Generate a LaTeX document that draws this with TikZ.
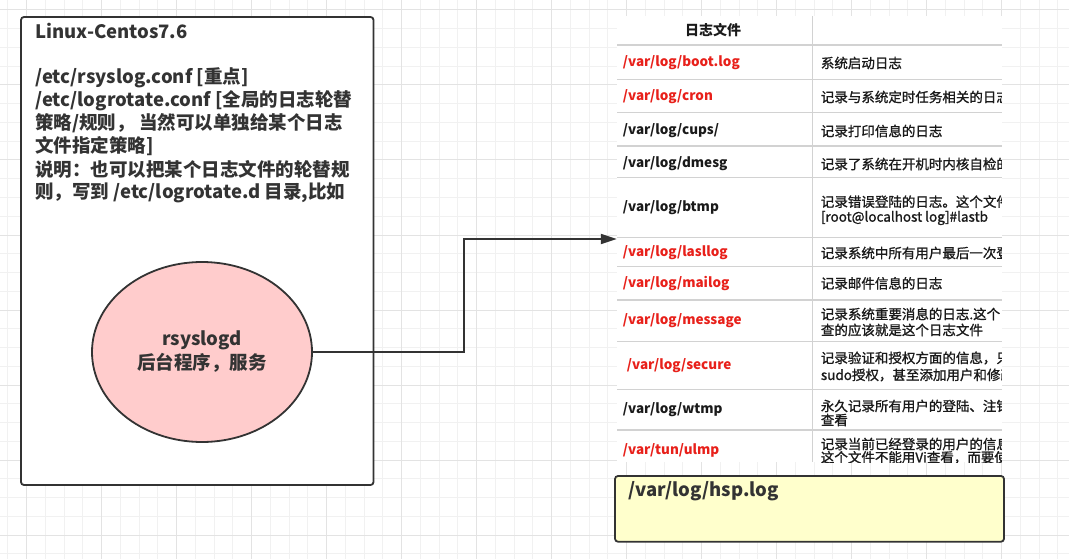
\documentclass[tikz,border=0pt]{standalone}
\usepackage{fontspec}
\setmainfont{Noto Sans CJK SC}
\newfontfamily\descfont{Noto Sans CJK SC}[FakeBold=1.2]
\usetikzlibrary{arrows.meta,shapes.geometric}
\definecolor{strokec}{HTML}{333333}
\definecolor{gridminor}{HTML}{F1F1F1}
\definecolor{gridmajor}{HTML}{E3E3E3}
\definecolor{pinkfill}{HTML}{FFCCCC}
\definecolor{yellowfill}{HTML}{FFFFCC}
\definecolor{rowline}{HTML}{D2D2D2}
\definecolor{redtext}{HTML}{E8201A}
\definecolor{blacktext}{HTML}{1A1A1A}
\tikzset{
  minorline/.style={gridminor,line width=1pt},
  majorline/.style={gridmajor,line width=1pt},
  bigtext/.style={font=\fontsize{18.5}{24}\selectfont\bfseries,text=strokec,inner sep=0pt,anchor=west},
  shapebox/.style={draw=strokec,line width=1.8pt,rounded corners=3pt,inner sep=0pt},
  conn/.style={draw=strokec,line width=1.8pt,-{Triangle[length=16pt,width=10pt]}},
  tline/.style={rowline,line width=1.3pt},
  pathred/.style={font=\fontsize{13.5}{16}\selectfont\bfseries,text=redtext,inner sep=0pt,anchor=west},
  pathblk/.style={font=\fontsize{13.5}{16}\selectfont\bfseries,text=blacktext,inner sep=0pt,anchor=west},
  desc/.style={font=\fontsize{13.5}{16}\selectfont\descfont,text=blacktext,inner sep=0pt,anchor=west},
}
\begin{document}
\begin{tikzpicture}[x=1pt,y=-1pt]
\useasboundingbox (0,0) rectangle (1069,559);
\fill[white] (0,0) rectangle (1069,559);
% background grid
\foreach \i in {0,...,56} { \draw[minorline] ({7.95+18.75*\i},0) -- ({7.95+18.75*\i},559); }
\foreach \i in {0,...,29} { \draw[minorline] (0,{10+18.75*\i}) -- (1069,{10+18.75*\i}); }
\foreach \i in {0,...,14} { \draw[majorline] ({26.7+75*\i},0) -- ({26.7+75*\i},559); }
\foreach \i in {0,...,7} { \draw[majorline] (0,{10+75*\i}) -- (1069,{10+75*\i}); }

% left system box
\node[shapebox,fill=white,minimum width=352.5pt,minimum height=468pt] (osbox) at (197.25,251) {};
\node[bigtext] (t1) at (35,31) {Linux-Centos7.6};
\node[bigtext] (t2) at (35,77.5) {/etc/rsyslog.conf [重点]};
\node[bigtext] (t3) at (35,100.5) {/etc/logrotate.conf [全局的日志轮替};
\node[bigtext] (t4) at (35,123.5) {策略/规则， 当然可以单独给某个日志};
\node[bigtext] (t5) at (35,146.5) {文件指定策略]};
\node[bigtext] (t6) at (35,169.5) {说明：也可以把某个日志文件的轮替规};
\node[bigtext] (t7) at (35,192.5) {则，写到 /etc/logrotate.d 目录,比如};

% daemon ellipse
\node[ellipse,draw=strokec,line width=1.8pt,fill=pinkfill,minimum width=220pt,minimum height=180pt,
      align=center,font=\fontsize{18.5}{24}\selectfont\bfseries,text=strokec] (ell) at (202,352)
      {rsyslogd\\后台程序，服务};

% log table (clipped screenshot)
\node[fill=white,minimum width=384.7pt,minimum height=446pt,inner sep=0pt] (tbl) at (809.35,239) {};
\begin{scope}
\clip (tbl.north west) rectangle (tbl.south east);
\foreach \yy in {45,79.3,112.7,146,177.3,237.3,266.7,300,341.7,389.3,430}
  { \draw[tline] (617,\yy) -- (1001.7,\yy); }
\draw[tline] (812.7,16) -- (812.7,462);
\node[font=\fontsize{14}{16}\selectfont\bfseries,text=blacktext,inner sep=0pt] (hdr) at (713,30) {日志文件};
\node[pathred] (p1) at (622.7,63) {/var/log/boot.log};
\node[pathred] (p2) at (622.7,97) {/var/log/cron};
\node[pathblk] (p3) at (622.7,131) {/var/log/cups/};
\node[pathblk] (p4) at (622.7,164) {/var/log/dmesg};
\node[pathblk] (p5) at (622.7,208) {/var/log/btmp};
\node[pathred] (p6) at (622.7,253) {/var/log/lasllog};
\node[pathred] (p7) at (622.7,284) {/var/log/mailog};
\node[pathred] (p8) at (622.7,321) {/var/log/message};
\node[pathred] (p9) at (626.7,366) {/var/log/secure};
\node[pathblk] (p10) at (622.7,410) {/var/log/wtmp};
\node[pathred] (p11) at (622.7,450) {/var/tun/ulmp};
\node[desc] (d1) at (820.7,63) {系统启动日志};
\node[desc] (d2) at (820.7,97) {记录与系统定时任务相关的日志};
\node[desc] (d3) at (820.7,131) {记录打印信息的日志};
\node[desc] (d4) at (820.7,164) {记录了系统在开机时内核自检的信息};
\node[desc] (d5a) at (820.7,201.7) {记录错误登陆的日志。这个文件};
\node[desc] (d5b) at (820.7,218) {[root@localhost log]\#lastb};
\node[desc] (d6) at (820.7,253) {记录系统中所有用户最后一次登录};
\node[desc] (d7) at (820.7,283.3) {记录邮件信息的日志};
\node[desc] (d8a) at (820.7,314) {记录系统重要消息的日志.这个日志};
\node[desc] (d8b) at (820.7,330) {查的应该就是这个日志文件};
\node[desc] (d9a) at (820.7,358) {记录验证和授权方面的信息，只要};
\node[desc] (d9b) at (820.7,375) {sudo授权，甚至添加用户和修改};
\node[desc] (d10a) at (820.7,406) {永久记录所有用户的登陆、注销};
\node[desc] (d10b) at (820.7,420) {查看};
\node[desc] (d11a) at (820.7,444) {记录当前已经登录的用户的信息};
\node[desc] (d11b) at (820.7,457.5) {这个文件不能用Vi查看，而要使用};
\end{scope}

% new log file box
\node[shapebox,fill=yellowfill,minimum width=389pt,minimum height=65.7pt] (hsp) at (809.5,508.85) {};
\node[bigtext] (hsptext) at (628,490.7) {/var/log/hsp.log};

% connector
\coordinate (bend) at (464,352);
\draw[conn] (ell.east) -- (bend) |- (tbl.west);
\end{tikzpicture}
\end{document}
